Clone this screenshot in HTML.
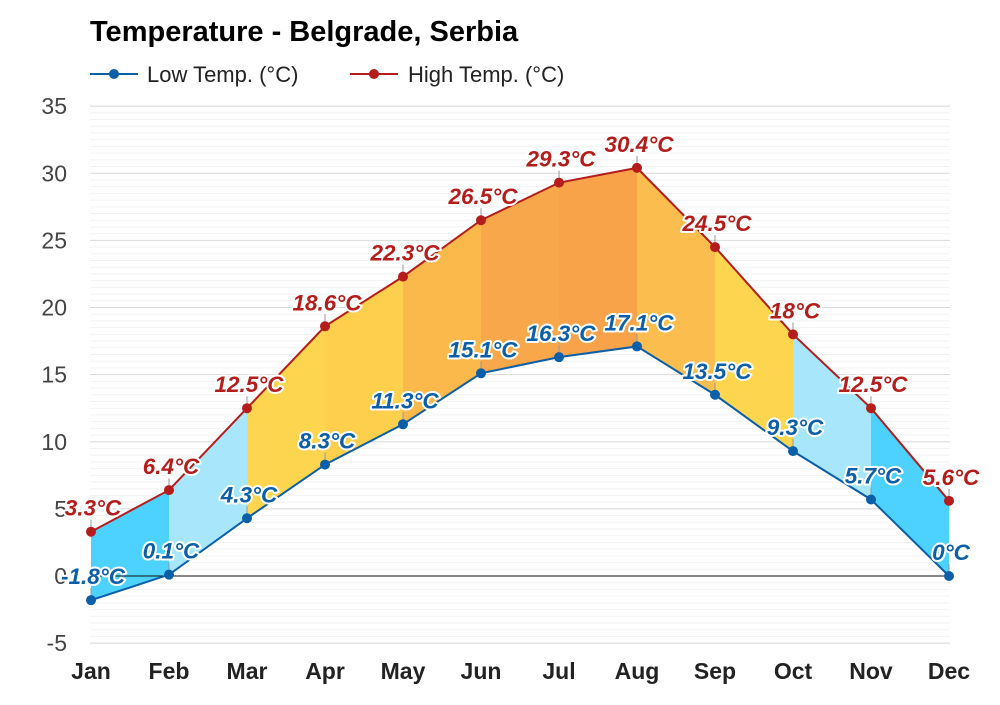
<!DOCTYPE html>
<html><head><meta charset="utf-8"><style>
body{margin:0;background:#fff;width:1000px;height:700px;overflow:hidden;font-family:"Liberation Sans",Arial,sans-serif}
</style></head><body>
<svg id="chart" width="1000" height="700" xmlns="http://www.w3.org/2000/svg">
<text x="90" y="41" font-size="29" font-weight="bold" fill="#000">Temperature - Belgrade, Serbia</text>
<g>
<line x1="90" y1="74" x2="138" y2="74" stroke="#0b5ea8" stroke-width="2"/><circle cx="114" cy="74" r="5" fill="#0b5ea8"/>
<text x="147" y="82" font-size="22" fill="#222">Low Temp. (°C)</text></g>
<g>
<line x1="350" y1="74" x2="398" y2="74" stroke="#b51c1c" stroke-width="2"/><circle cx="374" cy="74" r="5" fill="#b51c1c"/>
<text x="408" y="82" font-size="22" fill="#222">High Temp. (°C)</text></g>
<g id="grid"></g><g id="fills"></g><g id="lines"></g><g id="labels"></g>
</svg>
<script>
const months=["Jan","Feb","Mar","Apr","May","Jun","Jul","Aug","Sep","Oct","Nov","Dec"];
const highs=[3.3,6.4,12.5,18.6,22.3,26.5,29.3,30.4,24.5,18,12.5,5.6];
const lows=[-1.8,0.1,4.3,8.3,11.3,15.1,16.3,17.1,13.5,9.3,5.7,0];
const yTicks=[-5,0,5,10,15,20,25,30,35];
const segColors=["#4dd2ff","#a8e7fb","#fdd54f","#fdcf4d","#fbb84b","#f9a74b","#f8a24a","#fbbd4d","#fdd54f","#a8e7fb","#4dd2ff"];
const NS="http://www.w3.org/2000/svg";
const x=i=>91+i*78;
const y=v=>576-v*13.425;
function mk(t,a,p){const e=document.createElementNS(NS,t);for(const k in a)e.setAttribute(k,a[k]);p.appendChild(e);return e;}
const grid=document.getElementById('grid');
for(let v=-5;v<=35;v+=0.5){
  const l=mk('line',{x1:90,x2:950,y1:y(v),y2:y(v),stroke:v%5===0?'#d8d8d8':'#f2f2f2','stroke-width':1},grid);
  
  
}
yTicks.forEach(v=>{
  const t=mk('text',{x:67,y:y(v)+8,'text-anchor':'end','font-size':23,fill:'#444'},grid);
  t.textContent=v;
  
  
});
months.forEach((m,i)=>{
  const t=mk('text',{x:x(i),y:679,'text-anchor':'middle','font-size':23,'font-weight':'bold',fill:'#222'},grid);
  t.textContent=m;
  
  
});
const fills=document.getElementById('fills');
for(let i=0;i<months.length-1;i++){
  const p=mk('polygon',{points:`${x(i)},${y(highs[i])} ${x(i+1)},${y(highs[i+1])} ${x(i+1)},${y(lows[i+1])} ${x(i)},${y(lows[i])}`,fill:segColors[i%segColors.length]},fills);
  
  
}
const lines=document.getElementById('lines');
const zl=mk('line',{x1:90,x2:950,y1:y(0),y2:y(0),stroke:'#111','stroke-width':1},lines);


function series(arr,col,name){
  const pl=mk('polyline',{points:arr.map((v,i)=>x(i)+','+y(v)).join(' '),fill:'none',stroke:col,'stroke-width':2},lines);
  
  
  arr.forEach((v,i)=>{
    mk('line',{x1:x(i),x2:x(i),y1:y(v),y2:y(v)-12,stroke:'#999','stroke-width':1},lines);
    const c=mk('circle',{cx:x(i),cy:y(v),r:5,fill:col},lines);
    
    
    const t=mk('text',{x:x(i)+2,y:y(v)-16,'text-anchor':'middle','font-size':22.5,'font-weight':'bold','font-style':'italic',fill:col,stroke:'#fff','stroke-width':4,'paint-order':'stroke','stroke-linejoin':'round'},document.getElementById('labels'));
    t.textContent=v+'°C';
    
    
  });
}
series(lows,'#0b5ea8','low');
series(highs,'#b51c1c','high');
</script>
</body></html>
